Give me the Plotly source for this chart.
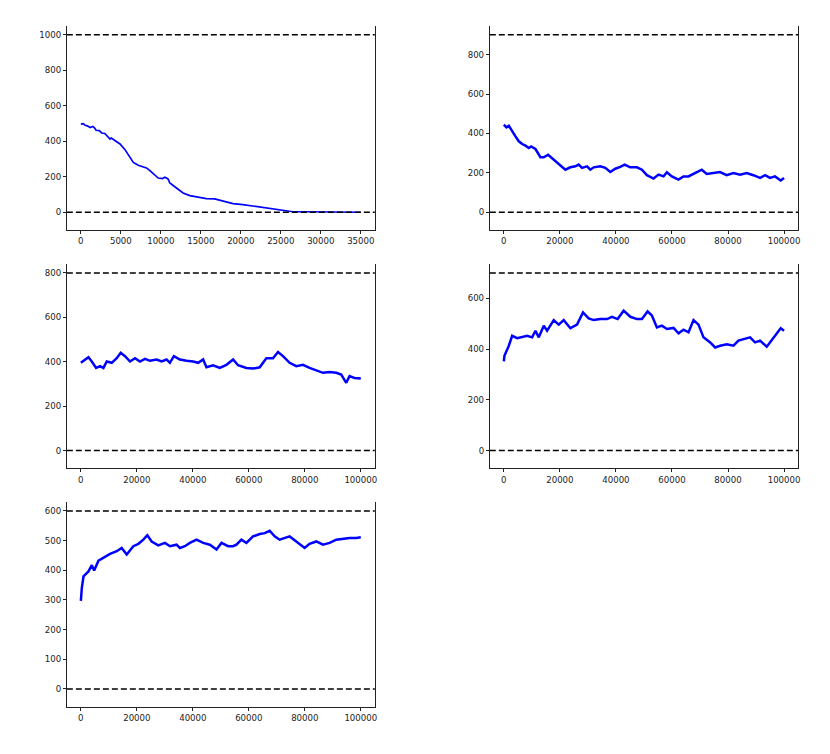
import plotly.graph_objects as go

# ---------------- data ----------------
p1_x = [0, 300, 535, 800, 1157, 1490, 1700, 1905, 2300, 2610, 3000, 3234, 3649, 3800, 4272, 4895,
        5518, 6058, 6557, 7180, 7803, 8200, 8633, 9256, 9671, 10211, 10500, 10900, 11124, 11954,
        12785, 13615, 14860, 15690, 16728, 17766, 19012, 20257, 21917, 23578, 24616, 25500,
        26500, 28000, 30000, 32000, 34000, 35000]
p1_y = [497, 500, 490, 487, 478, 484, 476, 462, 460, 447, 444, 433, 413, 418, 405, 385,
        353, 315, 281, 265, 255, 250, 235, 212, 193, 190, 197, 188, 165, 137,
        109, 94, 86, 77, 75, 62, 49, 43, 32, 19, 12, 6,
        3, 3, 2, 2, 1, 0]
p1_top = 1000

p2_x = [0, 950, 1781, 2968, 4156, 5343, 6531, 7718, 8906, 9737, 11280, 13060, 14250, 15790,
        17215, 18996, 20777, 21964, 23745, 25526, 26713, 27900, 29681, 30869, 32056, 34430,
        36210, 37990, 39774, 41555, 43100, 45115, 47490, 49270, 51050, 53420, 55200, 57000,
        58200, 59940, 62314, 64095, 65876, 67657, 70625, 72406, 74780, 77160, 79530, 81900,
        84300, 86670, 89040, 91420, 93200, 95000, 96770, 98800, 100000]
p2_y = [444, 431, 439, 410, 385, 360, 346, 338, 326, 334, 321, 279, 279, 292,
        275, 250, 233, 216, 228, 233, 242, 225, 233, 216, 228, 233,
        225, 204, 221, 230, 242, 228, 228, 216, 188, 171, 191, 182,
        203, 182, 166, 182, 182, 194, 216, 194, 199, 204, 188, 199,
        191, 199, 188, 174, 188, 174, 182, 161, 174]
p2_top = 900

p3_x = [0, 940, 2720, 3910, 5450, 6870, 8060, 9250, 11030, 12810, 14230, 15780, 17560,
        19340, 21120, 22900, 24680, 27060, 28840, 30620, 31800, 33230, 35370, 37740, 40120,
        41900, 43680, 44870, 47240, 49620, 52000, 54380, 56160, 59130, 61510, 63890, 66260,
        68640, 70420, 72200, 74580, 76960, 79330, 81700, 84100, 86480, 88850, 91230, 93010,
        94800, 95980, 97760, 100000]
p3_y = [395, 405, 420, 401, 372, 380, 372, 401, 395, 416, 440, 425, 401,
        416, 401, 413, 404, 410, 401, 410, 395, 425, 410, 404, 401,
        395, 410, 375, 384, 372, 386, 410, 384, 372, 369, 375, 416,
        416, 444, 425, 395, 380, 386, 372, 360, 350, 354, 350, 342,
        305, 335, 327, 324]
p3_top = 800

p4_x = [0, 210, 1780, 2970, 4750, 6530, 8310, 10100, 11280, 12470, 14250, 15440, 17810,
        19590, 21370, 23750, 26120, 28260, 30280, 32060, 34440, 36810, 38600, 40610, 42750,
        45130, 47500, 49290, 51300, 52840, 54620, 56400, 58190, 60560, 62340, 64130, 65910,
        67690, 69470, 71250, 73630, 75410, 77190, 79570, 81940, 83720, 85500, 87880, 89660,
        91440, 93820, 96200, 98800, 100000]
p4_y = [351, 373, 413, 452, 443, 446, 452, 446, 472, 446, 492, 472, 514,
        496, 514, 482, 496, 544, 521, 514, 518, 518, 527, 518, 551,
        527, 518, 518, 548, 532, 485, 492, 479, 483, 462, 476, 466,
        514, 496, 446, 426, 406, 413, 419, 413, 433, 439, 446, 426,
        433, 409, 446, 482, 472]
p4_top = 700

p5_x = [0, 340, 940, 2720, 3910, 4750, 6290, 8060, 10440, 12810, 14600, 16380, 18750,
        20540, 22320, 23750, 25290, 27660, 30040, 31820, 34190, 35380, 37160, 38940, 41320,
        43690, 46070, 48450, 50230, 52600, 54380, 55570, 57360, 59130, 61510, 63890, 65670,
        67450, 69230, 71010, 74580, 76960, 79930, 81700, 84100, 86480, 88850, 91230, 93600,
        95980, 98360, 100000]
p5_y = [297, 340, 379, 396, 417, 399, 432, 443, 455, 464, 475, 453, 481,
        489, 503, 518, 497, 484, 492, 481, 486, 475, 481, 492, 503,
        492, 486, 470, 492, 481, 481, 486, 503, 492, 514, 522, 525,
        533, 514, 503, 514, 497, 475, 489, 497, 486, 492, 503, 507,
        509, 509, 511]
p5_top = 600

x_ticks_short = [0, 5000, 10000, 15000, 20000, 25000, 30000, 35000]
x_ticks_long = [0, 20000, 40000, 60000, 80000, 100000]
y_ticks_1 = [0, 200, 400, 600, 800, 1000]
y_ticks_2 = [0, 200, 400, 600, 800]
y_ticks_3 = [0, 200, 400, 600, 800]
y_ticks_4 = [0, 200, 400, 600]
y_ticks_5 = [0, 100, 200, 300, 400, 500, 600]

# ---------------- layout ----------------
OFF = 8  # page body margin
W, H = 830 - OFF, 754 - OFF
col_px = [(67, 375.7), (491, 800)]
row_px = [(26, 230), (264, 468.3), (502, 706.7)]
col_dom = [[(l - OFF) / W, (r - OFF) / W] for (l, r) in col_px]
row_dom = [[1 - (b - OFF) / H, 1 - (t - OFF) / H] for (t, b) in row_px]

panels = [
    (p1_x, p1_y, p1_top, x_ticks_short, y_ticks_1, 0, 0, 1.7),
    (p2_x, p2_y, p2_top, x_ticks_long, y_ticks_2, 0, 1, 2.5),
    (p3_x, p3_y, p3_top, x_ticks_long, y_ticks_3, 1, 0, 2.5),
    (p4_x, p4_y, p4_top, x_ticks_long, y_ticks_4, 1, 1, 2.5),
    (p5_x, p5_y, p5_top, x_ticks_long, y_ticks_5, 2, 0, 2.5),
]

fig = go.Figure()
font = dict(family="DejaVu Sans", size=8.6, color="#222222")
shapes = []
layout = dict(
    width=W, height=H, autosize=False,
    margin=dict(l=0, r=0, t=0, b=0),
    paper_bgcolor="white", plot_bgcolor="white",
    showlegend=False, font=font,
)

for i, (xs, ys, top, xt, yt, r, c, lw) in enumerate(panels):
    n = "" if i == 0 else str(i + 1)
    xa, ya = "x" + n, "y" + n
    fig.add_trace(go.Scatter(x=xs, y=ys, mode="lines", xaxis=xa, yaxis=ya,
                             line=dict(color="#0000ff", width=lw)))
    L = max(xs)
    layout["xaxis" + n] = dict(
        domain=col_dom[c], anchor=ya, range=[-0.05 * L, 1.05 * L],
        tickvals=xt, ticktext=[str(v) for v in xt],
        showgrid=False, zeroline=False, showline=True, mirror=False,
        linecolor="#222222", linewidth=1, ticks="outside", ticklen=3,
        tickcolor="#222222", tickfont=font,
    )
    layout["yaxis" + n] = dict(
        domain=row_dom[r], anchor=xa, range=[-0.1 * top, 1.05 * top],
        tickvals=yt, ticktext=[str(v) for v in yt],
        showgrid=False, zeroline=False, showline=True, mirror=True,
        linecolor="#222222", linewidth=1, ticks="outside", ticklen=3,
        tickcolor="#222222", tickfont=font,
    )
    for yv in (0, top):
        shapes.append(dict(type="line", xref=xa + " domain", yref=ya,
                           x0=0, x1=1, y0=yv, y1=yv,
                           line=dict(color="black", width=1.5, dash="6px,3px")))

layout["shapes"] = shapes
fig.update_layout(**layout)
fig.write_html("out.html")
